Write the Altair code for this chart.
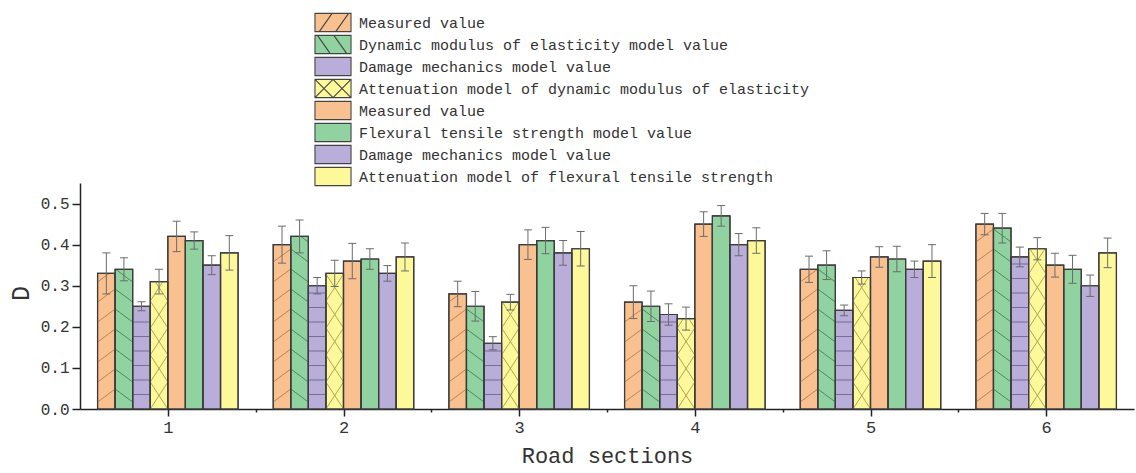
import altair as alt
import numpy as np
import pandas as pd

# ---- data -------------------------------------------------------------
sections = [1, 2, 3, 4, 5, 6]

series_keys = ["S1", "S2", "S3", "S4", "S5", "S6", "S7", "S8"]
series_names = [
    "Measured value",
    "Dynamic modulus of elasticity model value",
    "Damage mechanics model value",
    "Attenuation model of dynamic modulus of elasticity",
    "Measured value",
    "Flexural tensile strength model value",
    "Damage mechanics model value",
    "Attenuation model of flexural tensile strength",
]

measured_e = [0.33, 0.40, 0.28, 0.26, 0.34, 0.45]
elastic_model = [0.34, 0.42, 0.25, 0.25, 0.35, 0.44]
damage_e = [0.25, 0.30, 0.16, 0.23, 0.24, 0.37]
atten_e = [0.31, 0.33, 0.26, 0.22, 0.32, 0.39]
measured_f = [0.42, 0.36, 0.40, 0.45, 0.37, 0.35]
flexural_model = [0.41, 0.365, 0.41, 0.47, 0.365, 0.34]
damage_f = [0.35, 0.33, 0.38, 0.40, 0.34, 0.30]
atten_f = [0.38, 0.37, 0.39, 0.41, 0.36, 0.38]

err_measured_e = [0.050, 0.045, 0.031, 0.040, 0.032, 0.026]
err_elastic_model = [0.028, 0.040, 0.036, 0.037, 0.035, 0.036]
err_damage_e = [0.011, 0.020, 0.016, 0.026, 0.013, 0.024]
err_atten_e = [0.030, 0.032, 0.019, 0.028, 0.016, 0.027]
err_measured_f = [0.037, 0.043, 0.036, 0.030, 0.025, 0.029]
err_flexural_model = [0.021, 0.025, 0.032, 0.025, 0.031, 0.034]
err_damage_f = [0.023, 0.019, 0.030, 0.027, 0.020, 0.026]
err_atten_f = [0.042, 0.034, 0.042, 0.031, 0.040, 0.036]

values = [measured_e, elastic_model, damage_e, atten_e,
          measured_f, flexural_model, damage_f, atten_f]
errors = [err_measured_e, err_elastic_model, err_damage_e, err_atten_e,
          err_measured_f, err_flexural_model, err_damage_f, err_atten_f]

# ---- styling ----------------------------------------------------------
fill_colors = ["#F9C090", "#90D2A0", "#B9ADD9", "#FDF99A",
               "#F9C090", "#90D2A0", "#B9ADD9", "#FDF99A"]
edge = "#3c3c3c"
font = "Liberation Mono"

# legend swatches: a 2:1 box, the first four carrying their hatch
# (hatch strokes are single straight segments so they add no filled area)
box = "M-1.97,-1H1.97V1H-1.97Z"
swatches = [
    box + "M-1.5,1L-0.1,-1M0.3,1L1.7,-1",
    box + "M-1.7,-1L-0.3,1M0.1,-1L1.5,1",
    box,
    box + "M-1.97,-1L0,1M0,1L1.97,-1M-1.97,1L0,-1M0,-1L1.97,1",
    box, box, box, box,
]

W, H = 1054, 226
Y_MAX = 0.55
PX_Y = H / Y_MAX            # pixels per data unit on y
GROUP = 0.8                  # share of a section taken by its bar group
BAR = GROUP / len(series_keys)

# ---- bar table ----------------------------------------------------------
rows = []
for k, key in enumerate(series_keys):
    for i, s in enumerate(sections):
        left = s - GROUP / 2 + k * BAR
        rows.append(dict(key=key, section=s, x0=left, x1=left + BAR,
                         xc=left + BAR / 2, value=values[k][i],
                         lo=values[k][i] - errors[k][i],
                         hi=values[k][i] + errors[k][i]))
bars = pd.DataFrame(rows)


def slanted(left, right, top, period_px, rise_px, mirror=False):
    """Parallel hatch segments clipped to the bar [left,right] x [0,top]."""
    period, rise = period_px / PX_Y, rise_px / PX_Y
    segs = []
    c = -rise
    while c < top:
        t0 = max(0.0, -c / rise)
        t1 = min(1.0, (top - c) / rise)
        if t1 > t0:
            xa = left + t0 * (right - left)
            xb = left + t1 * (right - left)
            if mirror:
                xa, xb = left + right - xa, left + right - xb
            segs.append(dict(x=xa, x2=xb, y=c + rise * t0, y2=c + rise * t1))
        c += period
    return segs


def horizontal(left, right, top, period_px):
    period = period_px / PX_Y
    segs = []
    y = period
    while y < top - 0.004:
        segs.append(dict(x=left, x2=right, y=y, y2=y))
        y += period
    return segs


hatch_rows = {"S1": [], "S2": [], "S3": [], "S4": []}
for _, r in bars.iterrows():
    if r.key == "S1":
        hatch_rows["S1"] += slanted(r.x0, r.x1, r.value, 20, 13)
    elif r.key == "S2":
        hatch_rows["S2"] += slanted(r.x0, r.x1, r.value, 20, 13, mirror=True)
    elif r.key == "S3":
        hatch_rows["S3"] += horizontal(r.x0, r.x1, r.value, 14.5)
    elif r.key == "S4":
        hatch_rows["S4"] += slanted(r.x0, r.x1, r.value, 27, 27)
        hatch_rows["S4"] += slanted(r.x0, r.x1, r.value, 27, 27, mirror=True)

hatch_colors = {"S1": "#b9753f", "S2": "#3f7d52", "S3": "#6a5f8e", "S4": "#9c9850"}

x_scale = alt.Scale(domain=[0.5, 6.5], nice=False, zero=False)
y_scale = alt.Scale(domain=[0, Y_MAX], nice=False)

x_ticks = [1, 1.5, 2, 2.5, 3, 3.5, 4, 4.5, 5, 5.5, 6]
y_ticks = [round(0.05 * i, 2) for i in range(11)]

label_expr = "[" + ",".join(f"'{n}'" for n in series_names) + "]" \
    + "[indexof([" + ",".join(f"'{k}'" for k in series_keys) + "], datum.label)]"

x_axis = alt.Axis(
    values=x_ticks,
    labelExpr="datum.value % 1 === 0 ? format(datum.value, 'd') : ''",
    tickSize={"condition": {"test": "datum.value % 1 === 0", "value": 7}, "value": 3},
    title="Road sections", titleFont=font, titleFontSize=22,
    titleFontWeight="normal", titleColor="#333",
    titleY=53, titleBaseline="alphabetic",
    labelFont=font, labelFontSize=17, labelColor="#333", labelPadding=3,
    grid=False, domainColor="#222", domainWidth=1.5,
    tickColor="#222", tickWidth=1.5,
)
y_axis = alt.Axis(
    values=y_ticks,
    labelExpr="abs(datum.value * 10 - round(datum.value * 10)) < 1e-6 ? format(datum.value, '.1f') : ''",
    tickSize={"condition": {"test": "abs(datum.value * 10 - round(datum.value * 10)) < 1e-6",
                            "value": 8}, "value": 4},
    title="D", titleFont=font, titleFontSize=25, titleFontWeight="normal",
    titleColor="#333", titleX=-60, titleY=110, titleAngle=270,
    titleAlign="center", titleBaseline="middle",
    labelFont=font, labelFontSize=16, labelColor="#333", labelPadding=3,
    grid=False, domainColor="#222", domainWidth=1.5,
    tickColor="#222", tickWidth=1.5,
)

legend = alt.Legend(
    title=None, orient="none", legendX=243, legendY=-170.5, padding=0,
    symbolSize=335, symbolStrokeColor="#444", symbolStrokeWidth=1.1,
    symbolOpacity=1,
    labelFont=font, labelFontSize=15, labelColor="#333", labelOffset=16,
    labelLimit=800, rowPadding=-2.3, labelExpr=label_expr,
)

color_scale = alt.Scale(domain=series_keys, range=fill_colors)

bar_layer = alt.Chart(bars).mark_rect(stroke=edge, strokeWidth=1.2).encode(
    x=alt.X("x0:Q", scale=x_scale, axis=x_axis),
    x2="x1:Q",
    y=alt.Y("value:Q", scale=y_scale, axis=y_axis),
    y2=alt.datum(0),
    color=alt.Color("key:N", scale=color_scale, legend=legend),
)

# legend carrier: transparent points that give the legend its swatches
legend_layer = alt.Chart(bars).mark_point(
    filled=True, strokeWidth=1.1, opacity=0
).encode(
    x="xc:Q", y="value:Q",
    color=alt.Color("key:N", scale=color_scale, legend=legend),
    shape=alt.Shape("key:N", scale=alt.Scale(domain=series_keys, range=swatches),
                    legend=legend),
    stroke=alt.Stroke("key:N", scale=alt.Scale(domain=series_keys, range=["#444"] * 8),
                      legend=legend),
)

hatch_layers = []
for key, segs in hatch_rows.items():
    hatch_layers.append(
        alt.Chart(pd.DataFrame(segs)).mark_rule(
            color=hatch_colors[key], strokeWidth=1, opacity=0.85
        ).encode(x="x:Q", x2="x2:Q", y="y:Q", y2="y2:Q")
    )

outline_layer = alt.Chart(bars).mark_rect(
    fill=None, stroke=edge, strokeWidth=1.2
).encode(x="x0:Q", x2="x1:Q", y="value:Q", y2=alt.datum(0))

err_color = "#6b6b6b"
err_rule = alt.Chart(bars).mark_rule(color=err_color, strokeWidth=1).encode(
    x="xc:Q", y="lo:Q", y2="hi:Q")
cap_hi = alt.Chart(bars).mark_tick(
    orient="horizontal", size=8, thickness=1, color=err_color, opacity=1
).encode(x="xc:Q", y="hi:Q")
cap_lo = alt.Chart(bars).mark_tick(
    orient="horizontal", size=8, thickness=1, color=err_color, opacity=1
).encode(x="xc:Q", y="lo:Q")

chart = alt.layer(
    bar_layer, *hatch_layers, outline_layer, err_rule, cap_hi, cap_lo, legend_layer
).properties(
    width=W, height=H,
    autosize=alt.AutoSizeParams(type="none"),
    padding={"left": 80, "top": 183, "right": 2, "bottom": 64},
    background="white",
).configure_view(stroke=None).configure_legend(
    symbolStrokeColor="#444", symbolStrokeWidth=1.1
)

chart.save("out.html", embed_options={"renderer": "svg", "actions": False})
